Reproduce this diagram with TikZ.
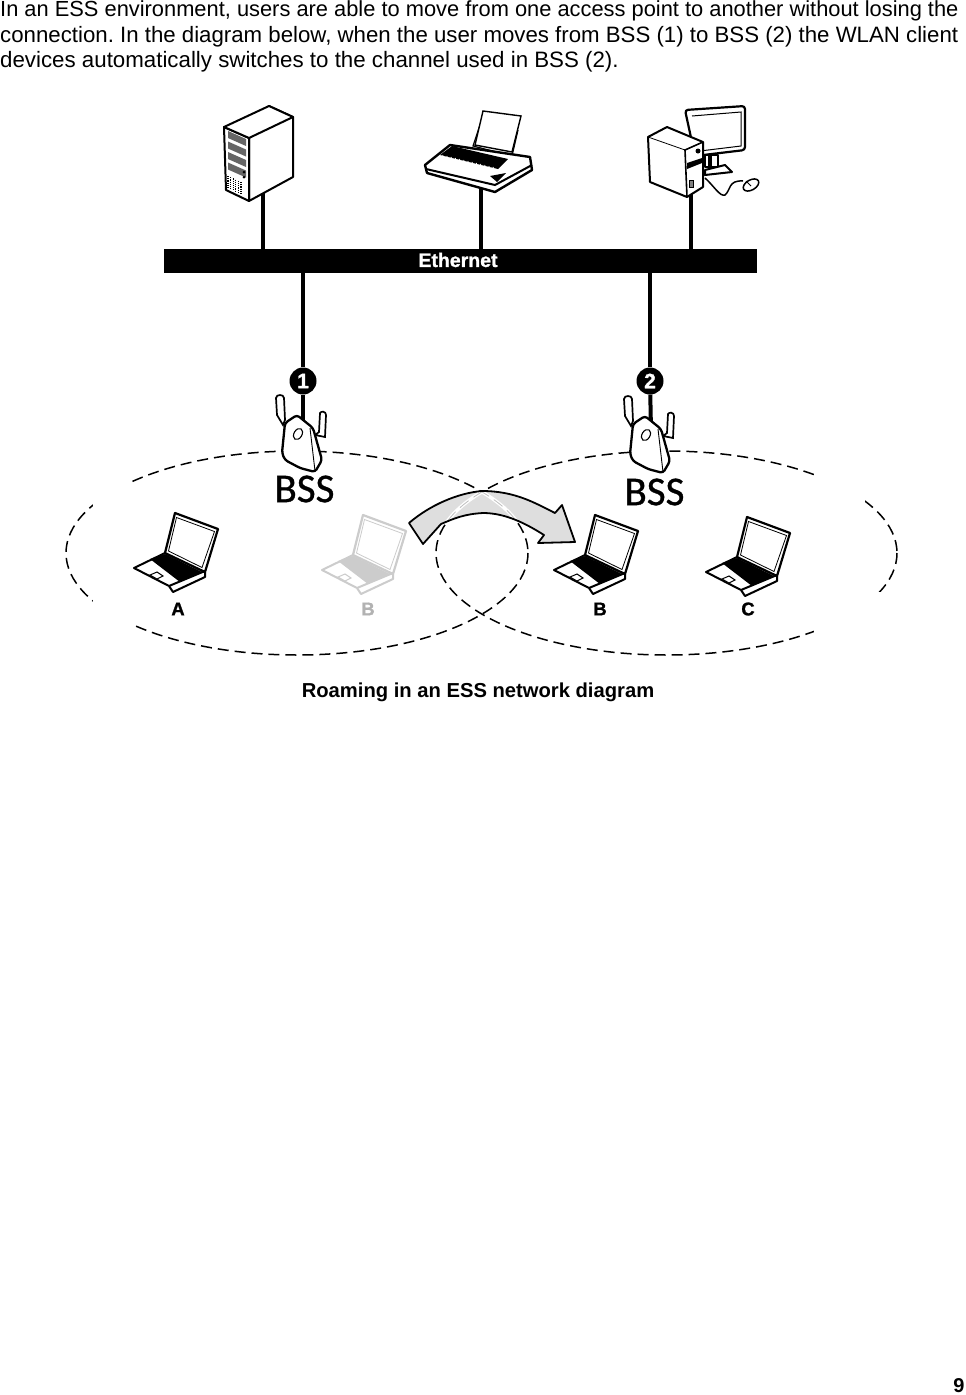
\documentclass[tikz,border=0pt]{standalone}
\usepackage{fontspec}
\setmainfont{Liberation Sans}
\newfontfamily\bssfont[FakeBold=0.8]{Carlito}
\newfontfamily\labelfont[FakeBold=1.2]{Liberation Sans Bold}
\usetikzlibrary{shapes,arrows,positioning}

\tikzset{
  pics/laptop/.style={code={
    \draw [#1, line width=2pt, line join=round, fill=white] (-41,13) -- (-10,-2) -- (30,17) -- (30,22) -- (-2,37) -- (-6,31) -- cycle;
    \fill [#1] (-25,4) -- (-10,-1) -- (27,17) -- (5,27) -- cycle;
    \draw [#1, line width=1pt, fill=white] (-25,20) -- (-18,17) -- (-12,21) -- (-18,24) -- cycle;
    \draw [#1, line width=2.2pt, line join=round, fill=white] (0,-42) -- (43,-26) -- (30,17) -- (-10,-2) -- cycle;
    \draw [#1, line width=.8pt] (1.5,-37.5) -- (39.5,-23.5) -- (27,12.5) -- (-6.5,-4) -- cycle;
    \draw [#1, line width=2pt] (-6,31) -- (30,16);
  }},
  pics/accesspoint/.style={code={
    \draw [line width=1.7pt, fill=white] (-26,-25) -- (-27,-42) .. controls (-27,-46) and (-19,-46) .. (-19,-42) -- (-18,-20) -- (-20,-15) -- cycle;
    \draw [line width=1.7pt, fill=white] (17,-27) .. controls (18,-29) and (23,-29) .. (23,-25) -- (22,-3) -- (12,-5) -- (16,-8) -- cycle;
    \draw [line width=2.3pt, fill=white, rounded corners=3pt] (-18,-17) -- (-6,-25) -- (10,-12) -- (19,20) -- (12,32) -- (-3,28) -- (-18,20) -- (-21,13) -- cycle;
    \draw [line width=.9pt] (7,-12) -- (12,31);
    \draw [line width=1.1pt, rotate around={-30:(-5,-6)}] (-5,-6) ellipse (4 and 6);
  }}
}
\def\roampath{(409,523) .. controls (430,505) and (458,493) .. (482,491) .. controls (515,491) and (535,503) .. (555,513) -- (562,505) -- (575,542) -- (538,543) -- (544,535) .. controls (525,523) and (505,513) .. (483,513) .. controls (465,514) and (455,518) .. (441,524) -- (423,544) -- cycle}

\begin{document}
\frenchspacing
\begin{tikzpicture}[x=1pt, y=-1pt]
% Define styles
\tikzstyle{bodytext} = [inner sep=0pt, anchor=base west]
\tikzstyle{bus} = [rectangle, fill=black, minimum width=593pt, minimum height=24pt, inner sep=0pt]
\tikzstyle{cable} = [line width=4pt]
\tikzstyle{badge} = [circle, fill=black, text=white, minimum size=27pt, inner sep=0pt, font=\fontsize{21}{21}\selectfont\labelfont]
\tikzstyle{bss} = [inner sep=0pt, font=\fontsize{41}{41}\selectfont\bssfont]
\tikzstyle{pclabel} = [inner sep=0pt, font=\fontsize{18.5}{20}\selectfont\labelfont]
\tikzstyle{cellrange} = [line width=1.5pt, dash pattern=on 11pt off 6pt]
\tikzstyle{icon} = [line width=2pt, line join=round, fill=white]

\useasboundingbox (0,0) rectangle (966,1395);

% Place text
\node (line1) [bodytext, font=\fontsize{21.85}{25}\selectfont] at (0,16) {In an ESS environment, users are able to move from one access point to another without losing the};
\node (line2) [bodytext, font=\fontsize{22.24}{25}\selectfont] at (0,42) {connection. In the diagram below, when the user moves from BSS (1) to BSS (2) the WLAN client};
\node (line3) [bodytext, font=\fontsize{22.3}{25}\selectfont] at (0,67) {devices automatically switches to the channel used in BSS (2).};
\node (caption) [inner sep=0pt, font=\fontsize{20.2}{22}\selectfont\bfseries] at (478,692) {Roaming in an ESS network diagram};
\node (pagenum) [inner sep=0pt, font=\fontsize{20}{22}\selectfont\bfseries] at (959,1386) {9};

% Cell ranges
\draw [cellrange] (297,553) ellipse (231 and 102);
\draw [cellrange] (666.5,553) ellipse (230.5 and 102);
\fill [white] (93,445) rectangle (132,660);
\fill [white] (814,445) rectangle (865,660);
\fill [white] (865,592) rectangle (900,660);

% Place nodes
\node (ethernet) [bus] at (460.5,261) {};
\node (ethernetlabel) [text=white, inner sep=0pt, font=\fontsize{19.5}{20}\selectfont\labelfont] at (458,260) {Ethernet};
\coordinate (server) at (263,190);
\coordinate (printer) at (480.5,185);
\coordinate (desktop) at (691,192);
\node (badge1) [badge] at (303,381) {1};
\node (badge2) [badge] at (650,381) {2};
\coordinate (ap1) at (303,430);
\coordinate (ap2) at (651,430);

% Draw cables
\draw [cable] (server) -- (server |- ethernet.north);
\draw [cable] (printer) -- (printer |- ethernet.north);
\draw [cable] (desktop) -- (desktop |- ethernet.north);
\draw [cable] (ethernet.south -| badge1) -- (badge1);
\draw [cable] (ethernet.south -| badge2) -- (badge2);
\draw [cable] (badge1) -- (ap1);
\draw [cable] (badge2) -- (ap2);

% Access points
\pic at (303,440) {accesspoint};
\pic at (651,441) {accesspoint};
\node (bss1) [bss] at (304.5,489) {BSS};
\node (bss2) [bss] at (654.5,492) {BSS};

% Server
\draw [icon] (249,138) -- (269,106) -- (293,117) -- (293,177) -- (249,201) -- cycle;
\draw [icon] (224,127) -- (249,138) -- (249,201) -- (226,190) -- cycle;
\draw [icon] (224,127) -- (269,106) -- (293,117) -- (249,138) -- cycle;
\foreach \row in {0,1,2,3}
  \fill [black!60] (228,{131+\row*10.5}) -- (246,{139+\row*10.5}) -- (246,{146+\row*10.5}) -- (228,{138+\row*10.5}) -- cycle;
\foreach \col in {0,1,2,3,4,5}
  \draw [line width=1.2pt, densely dotted] ({228+\col*2.6},{176+\col*1.2}) -- ({228+\col*2.6},{188+\col*1.2});
\fill (244,172) circle (1.5);
\fill (244,177) circle (1.5);

% Printer
\draw [line width=1.2pt, fill=white] (480,125) -- (473,146) -- (512,156) -- (518,130);
\draw [line width=1.4pt, fill=white] (483,111) -- (521,116) -- (512,152) -- (475,145) -- cycle;
\draw [icon, line width=2.4pt] (425,165) -- (450,145) -- (530,157) -- (532,170) -- (495,192) -- (427,173) -- cycle;
\draw [line width=2pt] (426,169) -- (495,185) -- (532,165);
\fill (440,155) -- (452,146) -- (508,159) -- (498,169) -- cycle;
\foreach \col in {0,...,12}
  \draw [white, line width=.8pt] ({443+\col*4.2},{155+\col*1}) -- ({441+\col*4.2},{161+\col*1});
\fill (490,176) -- (506,173) -- (497,182) -- cycle;

% Desktop
\draw [icon, line width=2.2pt, rounded corners=3pt] (685,110) -- (745,106) -- (745,150) -- (695,156) -- cycle;
\draw [line width=1pt] (692,116) -- (741,112) -- (741,146) -- (700,151);
\draw [icon] (705,155) rectangle (718,167);
\fill (708,156) rectangle (712,166);
\draw [icon] (705,170) -- (725,165) -- (732,172) -- (705,175) -- cycle;
\draw [line width=1.5pt] (705,178) .. controls (714,186) and (720,197) .. (725,195) .. controls (731,190) and (728,180) .. (743,181);
\draw [line width=1.5pt, fill=white, rotate around={30:(751,185)}] (751,185) ellipse (8.5 and 5);
\draw [line width=.8pt] (746,181) -- (751,186);
\draw [icon] (648,137) -- (667,127) -- (703,142) -- (703,187) -- (687,197) -- (650,182) -- cycle;
\draw [line width=.8pt] (648,137) -- (685,150);
\draw [line width=1.6pt] (703,142) -- (685,150) -- (687,197);
\fill (687,163) -- (702,158) -- (702,163) -- (687,169) -- cycle;
\fill (698,151) circle (2.5);
\draw [line width=1pt, fill=black!50] (689,180) rectangle (693,187);

% Laptops
\pic at (175,555) {laptop=black};
\pic at (363,557) {laptop=black!20};
\pic at (595,557) {laptop=black};
\pic at (747,559) {laptop=black};
\node (labelA) [pclabel] at (178,609) {A};
\node (labelB) [pclabel, text=black!30] at (368,609) {B};
\node (labelBnew) [pclabel] at (600,609) {B};
\node (labelC) [pclabel] at (748,609) {C};

% Roaming arrow
\fill [black!13] \roampath;
\begin{scope}
\clip \roampath;
\draw [white, line width=3.5pt] (297,553) ellipse (231 and 102);
\draw [white, line width=3.5pt] (666.5,553) ellipse (230.5 and 102);
\draw [cellrange, black!25, line width=.8pt] (297,553) ellipse (231 and 102);
\draw [cellrange, black!25, line width=.8pt] (666.5,553) ellipse (230.5 and 102);
\end{scope}
\draw [line width=1.8pt, line join=round] \roampath;
\end{tikzpicture}
\end{document}
